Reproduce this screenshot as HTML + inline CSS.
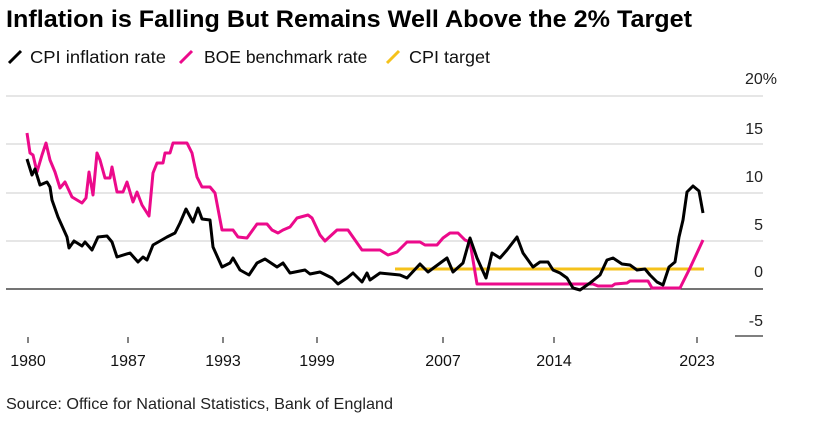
<!DOCTYPE html>
<html><head><style>
body{margin:0;background:#fff;width:837px;height:423px;overflow:hidden;font-family:"Liberation Sans",Arial,sans-serif;}
</style></head><body>
<svg width="837" height="423" viewBox="0 0 837 423" xmlns="http://www.w3.org/2000/svg" font-family="Liberation Sans, Arial, sans-serif">
<text x="6" y="27" font-size="24" font-weight="bold" fill="#000" textLength="686" lengthAdjust="spacingAndGlyphs">Inflation is Falling But Remains Well Above the 2% Target</text>
<g font-size="17.5" fill="#111">
<line x1="9" y1="63" x2="21" y2="51" stroke="#000" stroke-width="3"/>
<text x="30" y="63" textLength="136" lengthAdjust="spacingAndGlyphs">CPI inflation rate</text>
<line x1="180" y1="63" x2="192" y2="51" stroke="#ec0a8b" stroke-width="3"/>
<text x="204" y="63">BOE benchmark rate</text>
<line x1="387" y1="63" x2="399" y2="51" stroke="#f5c21b" stroke-width="3"/>
<text x="409" y="63" textLength="81" lengthAdjust="spacingAndGlyphs">CPI target</text>
</g>
<g stroke="#ddd" stroke-width="1.5">
<line x1="6" y1="96" x2="763" y2="96"/><line x1="6" y1="144" x2="763" y2="144"/>
<line x1="6" y1="193" x2="763" y2="193"/><line x1="6" y1="241" x2="763" y2="241"/>
</g>
<line x1="6" y1="289" x2="763" y2="289" stroke="#222" stroke-width="1.2"/>
<line x1="735" y1="336" x2="763" y2="336" stroke="#555" stroke-width="1.5"/>
<g font-size="16" fill="#222" text-anchor="end">
<text x="777" y="84">20%</text><text x="763" y="134">15</text><text x="763" y="182">10</text>
<text x="763" y="230">5</text><text x="763" y="277">0</text><text x="763" y="326">-5</text>
</g>
<g stroke="#333" stroke-width="1.2">
<line x1="28" y1="337" x2="28" y2="343"/><line x1="128" y1="337" x2="128" y2="343"/>
<line x1="223" y1="337" x2="223" y2="343"/><line x1="317" y1="337" x2="317" y2="343"/>
<line x1="443" y1="337" x2="443" y2="343"/><line x1="554" y1="337" x2="554" y2="343"/>
<line x1="697" y1="337" x2="697" y2="343"/>
</g>
<g font-size="16" fill="#111" text-anchor="middle">
<text x="28" y="366">1980</text><text x="128" y="366">1987</text><text x="223" y="366">1993</text>
<text x="317" y="366">1999</text><text x="443" y="366">2007</text><text x="554" y="366">2014</text>
<text x="697" y="366">2023</text>
</g>
<line x1="395" y1="269" x2="704" y2="269" stroke="#f5c21b" stroke-width="3"/>
<polyline fill="none" stroke="#ec0a8b" stroke-width="3" stroke-linejoin="round" points="27,133 30,153 33,155 37,172 42,155 46,143 50,160 55,172 60,188 65,182 72,197 82,203 86,198 89,172 93,195 97,153 100,160 105,178 110,178 112,167 117,192 123,192 127,182 133,202 137,192 142,205 149,216 153,173 157,163 163,163 165,153 170,153 173,143 187,143 192,153 197,177 202,187 210,187 215,193 222,230 233,230 238,237 247,238 257,224 267,224 272,230 278,233 283,230 290,227 297,218 308,215 312,218 320,235 325,241 337,230 348,230 362,250 380,250 388,255 397,252 407,242 420,242 425,245 437,245 443,238 450,233 458,233 465,240 470,242 477,284 593,284 598,286 612,286 615,284 627,283 630,281 648,281 652,288 680,288 685,278 690,268 697,253 703,240"/>
<polyline fill="none" stroke="#000" stroke-width="3" stroke-linejoin="round" points="27,159 32,175 35,169 40,185 47,182 50,187 52,200 58,217 67,237 69,248 74,241 82,246 85,242 92,250 98,237 107,236 112,242 117,257 130,253 138,262 143,257 147,260 153,245 167,237 175,233 180,223 186,209 193,222 198,208 202,219 210,220 213,247 222,267 230,263 233,258 240,270 249,275 257,263 265,259 277,267 283,263 290,273 305,270 310,274 320,272 332,278 338,284 347,278 353,273 362,282 367,273 370,280 380,273 400,275 407,278 420,264 428,272 447,258 453,272 463,263 470,238 477,258 486,278 492,253 500,258 507,250 517,237 523,253 533,267 540,262 548,262 553,270 560,273 567,278 573,288 580,290 590,283 600,275 607,260 613,258 622,264 630,265 637,270 645,269 650,275 657,282 663,285 669,267 675,262 679,237 683,220 687,192 693,186 699,191 703,213"/>
<text x="6" y="409" font-size="16" fill="#222" textLength="387" lengthAdjust="spacingAndGlyphs">Source: Office for National Statistics, Bank of England</text>
</svg>
</body></html>
